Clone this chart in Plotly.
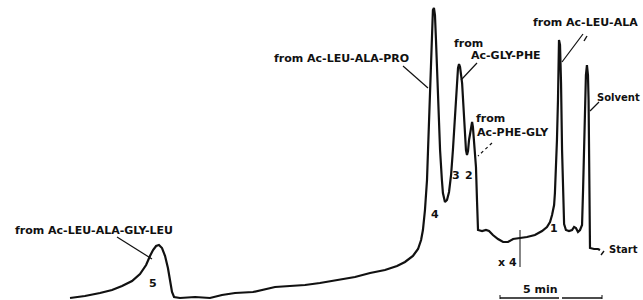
import plotly.graph_objects as go

# Chromatogram trace: retention time (min, measured back from Start) and detector response (a.u.)
time_min = [25.98, 25.25, 24.51, 23.92, 23.43, 22.94, 22.55, 22.25, 22.06, 21.91, 21.76, 21.62,
            21.47, 21.32, 21.18, 21.08, 20.98, 20.88, 20.59, 19.85, 19.12, 18.53, 17.89, 17.01,
            16.42, 15.93, 15.20, 14.46, 13.73, 12.89, 12.01, 11.27, 10.54, 9.95, 9.56, 9.17,
            8.92, 8.77, 8.68, 8.58, 8.48, 8.43, 8.38, 8.33, 8.28, 8.24, 8.19, 8.14, 8.09, 8.04,
            7.99, 7.94, 7.84, 7.75, 7.70, 7.60, 7.50, 7.40, 7.30, 7.21, 7.11, 7.01, 6.96, 6.91,
            6.86, 6.76, 6.67, 6.62, 6.57, 6.52, 6.47, 6.42, 6.32, 6.27, 6.23, 6.18, 6.08, 6.03,
            5.98, 5.78, 5.59, 5.44, 5.25, 5.00, 4.75, 4.51, 4.26, 3.92, 3.58, 3.19, 2.84, 2.60,
            2.45, 2.35, 2.25, 2.21, 2.16, 2.11, 2.06, 2.03, 2.01, 1.96, 1.91, 1.86, 1.81, 1.76,
            1.67, 1.52, 1.37, 1.27, 1.18, 1.08, 0.98, 0.88, 0.83, 0.78, 0.74, 0.69, 0.64, 0.59,
            0.56, 0.54, 0.51, 0.49, 0.29, 0.10, 0.00]
response = [2, 4, 7, 10, 14, 19, 26, 35, 44, 50, 54, 55,
            52, 44, 32, 20, 8, 3, 2, 3, 2, 5, 7, 8,
            11, 13, 14, 15, 17, 20, 23, 27, 30, 34, 38, 44,
            51, 60, 70, 90, 120, 150, 180, 210, 240, 270, 290, 292, 285, 260,
            233, 200, 150, 120, 107, 98, 100, 108, 125, 150, 183, 220, 232, 236,
            233, 217, 185, 162, 150, 145, 149, 160, 174, 178, 173, 160, 133, 100,
            70, 69, 70, 69, 65, 61, 58, 58, 61, 62, 63, 65, 69, 73,
            78, 85, 95, 107, 130, 160, 200, 240, 260, 255, 217, 150, 100, 76,
            70, 69, 70, 73, 72, 68, 70, 75, 110, 150, 183, 225, 235, 225,
            200, 133, 80, 52, 51, 51, 50]

# Labels
peak_labels = ["5", "4", "3", "2", "1"]
compound_labels = ["from Ac-LEU-ALA-GLY-LEU", "from Ac-LEU-ALA-PRO", "from", "Ac-GLY-PHE",
                   "from", "Ac-PHE-GLY", "from Ac-LEU-ALA", "Solvent", "Start"]
gain_label = "x 4"
scale_label = "5 min"

W, H = 643, 300
PX_PER_MIN = 20.4
X0 = 600.0  # pixel column of the Start mark


def tx(px):  # pixel column -> time coordinate
    return (X0 - px) / PX_PER_MIN


def sy(py):  # pixel row -> response coordinate
    return H - py


FONT = dict(family="DejaVu Sans", size=11, color="#111111")

fig = go.Figure()
fig.add_trace(go.Scatter(x=time_min, y=response, mode="lines",
                         line=dict(color="#111111", width=2.2), hoverinfo="skip",
                         showlegend=False))

ann = []


def text(s, px, py, anchor="center", size=11):
    ann.append(dict(x=tx(px), y=sy(py), xref="x", yref="y", text="<b>" + s + "</b>",
                    showarrow=False, font=dict(FONT, size=size), xanchor=anchor, yanchor="middle"))


text(compound_labels[0], 94, 230)
text(compound_labels[1], 341, 58)
text(compound_labels[2], 468, 43)
text(compound_labels[3], 506, 55)
text(compound_labels[4], 490, 118)
text(compound_labels[5], 513, 132)
text(compound_labels[6], 585, 22)
text(compound_labels[7], 642, 97, "right", size=10)
text(compound_labels[8], 607, 249, "left", size=10)
text(peak_labels[0], 153, 283)
text(peak_labels[1], 435, 214)
text(peak_labels[2], 456, 175)
text(peak_labels[3], 469, 175)
text(peak_labels[4], 554, 228)
text(gain_label, 507, 262)
text(scale_label, 540, 289)

shapes = []


def seg(x1, y1, x2, y2, w=1.2, dash="solid"):
    shapes.append(dict(type="line", xref="x", yref="y", x0=tx(x1), y0=sy(y1), x1=tx(x2), y1=sy(y2),
                       line=dict(color="#111111", width=w, dash=dash)))


# leader lines
seg(117, 237, 152, 259)
seg(403, 66, 428, 88)
seg(477, 63, 461, 80)
seg(492, 143, 478, 156, dash="dot")
seg(583, 34, 562, 62)
seg(587, 36, 584, 41, w=1.4)
seg(599, 102, 590, 111)
seg(604, 251, 601, 255, w=1.4)
# gain change mark
seg(520, 230, 520, 267, w=1.0)
# 5 min scale bar
seg(500, 298, 559, 298, w=1.3)
seg(562, 298, 602, 298, w=1.3)
seg(500, 295, 500, 299, w=1.0)
seg(602, 295, 602, 299, w=1.0)

fig.update_layout(
    width=W, height=H, margin=dict(l=0, r=0, t=0, b=0),
    paper_bgcolor="white", plot_bgcolor="white",
    xaxis=dict(range=[tx(0), tx(W)], visible=False, fixedrange=True),
    yaxis=dict(range=[sy(H), sy(0)], visible=False, fixedrange=True),
    annotations=ann, shapes=shapes,
)

fig.write_html("out.html", config={"displayModeBar": False},
               post_script="document.body.style.margin='0';document.body.style.overflow='hidden';")
